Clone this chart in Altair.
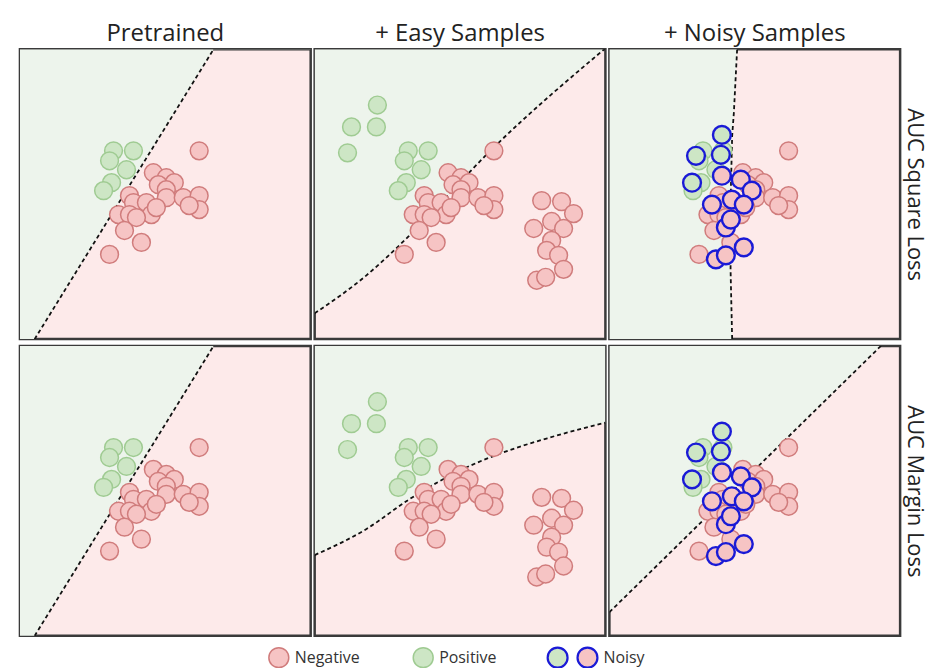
import altair as alt
import pandas as pd

# ---------------- data (panel units: x 0..292 left->right, y 0..291 bottom->top) -------------
col_titles = ["Pretrained", "+ Easy Samples", "+ Noisy Samples"]
row_titles = ["AUC Square Loss", "AUC Margin Loss"]
legend_labels = ["Negative", "Positive", "Noisy"]

base_pos_x = [94, 114, 90, 107, 92, 84]
base_pos_y = [189, 189, 179, 170, 157, 149]

base_neg_x = [180, 134, 147, 139, 155, 147, 147, 164, 180, 180, 170, 110, 114, 127, 132, 99, 110, 117, 105, 122, 90, 137]
base_neg_y = [189, 167, 162, 155, 157, 150, 142, 142, 144, 130, 134, 144, 137, 137, 125, 125, 125, 122, 109, 97, 85, 132]

easy_pos_x = [63, 37, 62, 33]
easy_pos_y = [235, 213, 213, 187]

easy_neg_x = [228, 248, 260, 238, 220, 250, 238, 233, 245, 250, 223, 232]
easy_neg_y = [139, 138, 126, 118, 111, 111, 99, 89, 84, 70, 59, 62]

noisy_pos_x = [113, 87, 112, 83]
noisy_pos_y = [205, 184, 185, 157]
noisy_neg_x = [113, 132, 143, 123, 103, 135, 117, 122, 135, 107, 117]
noisy_neg_y = [164, 160, 149, 140, 135, 135, 112, 120, 92, 80, 84]

# decision boundaries
bnd_pre_x = [0, 292]
bnd_pre_y = [-24, 449]
bnd_sq_easy_x = [0, 51.7, 95, 177.7, 292]
bnd_sq_easy_y = [25.8, 63.7, 103.7, 190.3, 292]
bnd_mg_easy_x = [0, 51.7, 95, 151.7, 188.3, 235, 292]
bnd_mg_easy_y = [81, 107, 137, 168.7, 183.7, 198.7, 214]
bnd_sq_noisy_x = [123.3, 121.7, 122, 123.3, 125, 128.3]
bnd_sq_noisy_y = [0, 70, 150, 204, 227, 291]
bnd_mg_noisy_x = [0, 292]
bnd_mg_noisy_y = [23.6, 310]

# ---------------- styles ----------------
W, H = 292, 291
FONT = "Open Sans"
GREEN_BG = "#edf4ec"
PINK_BG = "#fdeaea"
POS_F, POS_S = "#cde6c5", "#9fcb92"
NEG_F, NEG_S = "#f6c4c4", "#d07c7c"
NOISE_S = "#1a1ad6"
PT_SIZE = 320
TITLE_SIZE = 24
ROW_TITLE_SIZE = 22

xs = alt.Scale(domain=[0, W], nice=False, zero=False)
ys = alt.Scale(domain=[0, H], nice=False, zero=False)


def pts(xv, yv, fill, stroke):
    return pd.DataFrame({"x": xv, "y": yv, "fill": fill, "stroke": stroke})


def panel(stage, row, bx, by, orient, interp, col):
    if col == 2:
        yaxis = alt.Axis(orient="right", title=row_titles[row], labels=False, ticks=False,
                         domain=False, grid=False, titleFont=FONT, titleFontSize=ROW_TITLE_SIZE,
                         titleFontWeight="normal", titleColor="#222", titlePadding=2)
    else:
        yaxis = None
    X = alt.X("x:Q", scale=xs, axis=None)
    Y = alt.Y("y:Q", scale=ys, axis=yaxis)
    bdf = pd.DataFrame({"x": bx, "y": by, "i": list(range(len(bx)))})
    if orient == "vertical":
        area = alt.Chart(bdf).mark_area(color=GREEN_BG, clip=True, interpolate=interp).encode(
            x=X, y=Y, y2=alt.datum(H),
        )
    else:
        area = alt.Chart(bdf).mark_area(color=GREEN_BG, clip=True, orient="horizontal",
                                        interpolate=interp).encode(
            y=Y, x=X, x2=alt.datum(0),
        )
    line = alt.Chart(bdf).mark_line(color="#111", strokeDash=[4, 3], strokeWidth=1.8,
                                    clip=True, interpolate=interp).encode(
        x=X, y=Y, order="i:Q",
    )
    frames = [pts(base_pos_x, base_pos_y, POS_F, POS_S)]
    if stage == 1:
        frames.append(pts(easy_pos_x, easy_pos_y, POS_F, POS_S))
    frames.append(pts(base_neg_x, base_neg_y, NEG_F, NEG_S))
    if stage == 1:
        frames.append(pts(easy_neg_x, easy_neg_y, NEG_F, NEG_S))
    pdf = pd.concat(frames, ignore_index=True)
    points = alt.Chart(pdf).mark_circle(size=PT_SIZE, strokeWidth=1.5, opacity=1).encode(
        x=X, y=Y,
        fill=alt.Fill("fill:N", scale=None),
        stroke=alt.Stroke("stroke:N", scale=None),
    )
    layers = [area, line, points]
    if stage == 2:
        ndf = pd.concat([pts(noisy_pos_x, noisy_pos_y, POS_F, NOISE_S),
                         pts(noisy_neg_x, noisy_neg_y, NEG_F, NOISE_S)], ignore_index=True)
        noisy = alt.Chart(ndf).mark_circle(size=PT_SIZE, strokeWidth=2.4, opacity=1).encode(
            x=X, y=Y,
            fill=alt.Fill("fill:N", scale=None),
            stroke=alt.Stroke("stroke:N", scale=None),
        )
        layers.append(noisy)
    ch = alt.layer(*layers).properties(width=W, height=H)
    if row == 0:
        ch = ch.properties(title=alt.TitleParams(col_titles[col], font=FONT, fontSize=TITLE_SIZE,
                                                 fontWeight="normal", color="#222", offset=3))
    return ch


row1 = alt.hconcat(
    panel(0, 0, bnd_pre_x, bnd_pre_y, "vertical", "linear", 0),
    panel(1, 0, bnd_sq_easy_x, bnd_sq_easy_y, "vertical", "monotone", 1),
    panel(2, 0, bnd_sq_noisy_x, bnd_sq_noisy_y, "horizontal", "linear", 2),
    spacing=4, bounds="flush",
)
row2 = alt.hconcat(
    panel(0, 1, bnd_pre_x, bnd_pre_y, "vertical", "linear", 0),
    panel(1, 1, bnd_mg_easy_x, bnd_mg_easy_y, "vertical", "monotone", 1),
    panel(2, 1, bnd_mg_noisy_x, bnd_mg_noisy_y, "vertical", "linear", 2),
    spacing=4, bounds="flush",
)

# ---------------- custom legend ----------------
LW = 884
lx = alt.Scale(domain=[0, LW], nice=False, zero=False)
ly = alt.Scale(domain=[0, 1], nice=False, zero=False)
leg_sym = pd.DataFrame({
    "x": [260, 405, 540, 570],
    "y": [0.5, 0.5, 0.5, 0.5],
    "fill": [NEG_F, POS_F, POS_F, NEG_F],
    "stroke": [NEG_S, POS_S, NOISE_S, NOISE_S],
    "sw": [1.5, 1.5, 2.2, 2.2],
})
leg_txt = pd.DataFrame({"x": [276, 421, 586], "y": [0.5, 0.5, 0.5], "label": legend_labels})
leg_circles = alt.Chart(leg_sym).mark_circle(size=400, opacity=1).encode(
    x=alt.X("x:Q", scale=lx, axis=None),
    y=alt.Y("y:Q", scale=ly, axis=None),
    fill=alt.Fill("fill:N", scale=None),
    stroke=alt.Stroke("stroke:N", scale=None),
    strokeWidth=alt.StrokeWidth("sw:Q", scale=None),
)
leg_text = alt.Chart(leg_txt).mark_text(align="left", baseline="middle", font=FONT,
                                        fontSize=16, color="#333").encode(
    x=alt.X("x:Q", scale=lx, axis=None),
    y=alt.Y("y:Q", scale=ly, axis=None),
    text="label:N",
)
legend = alt.layer(leg_circles, leg_text).properties(
    width=LW, height=20, view=alt.ViewBackground(stroke="transparent", fill="white"))

chart = alt.vconcat(
    alt.vconcat(row1, row2, spacing=3),
    legend,
    spacing=4,
).properties(
    padding={"left": 10, "top": 11, "right": 1, "bottom": 0},
    background="white",
).configure_view(
    fill=PINK_BG, stroke="#3a3a3a", strokeWidth=2.5
)

chart.save("out.html", embed_options={"renderer": "svg", "actions": False})
